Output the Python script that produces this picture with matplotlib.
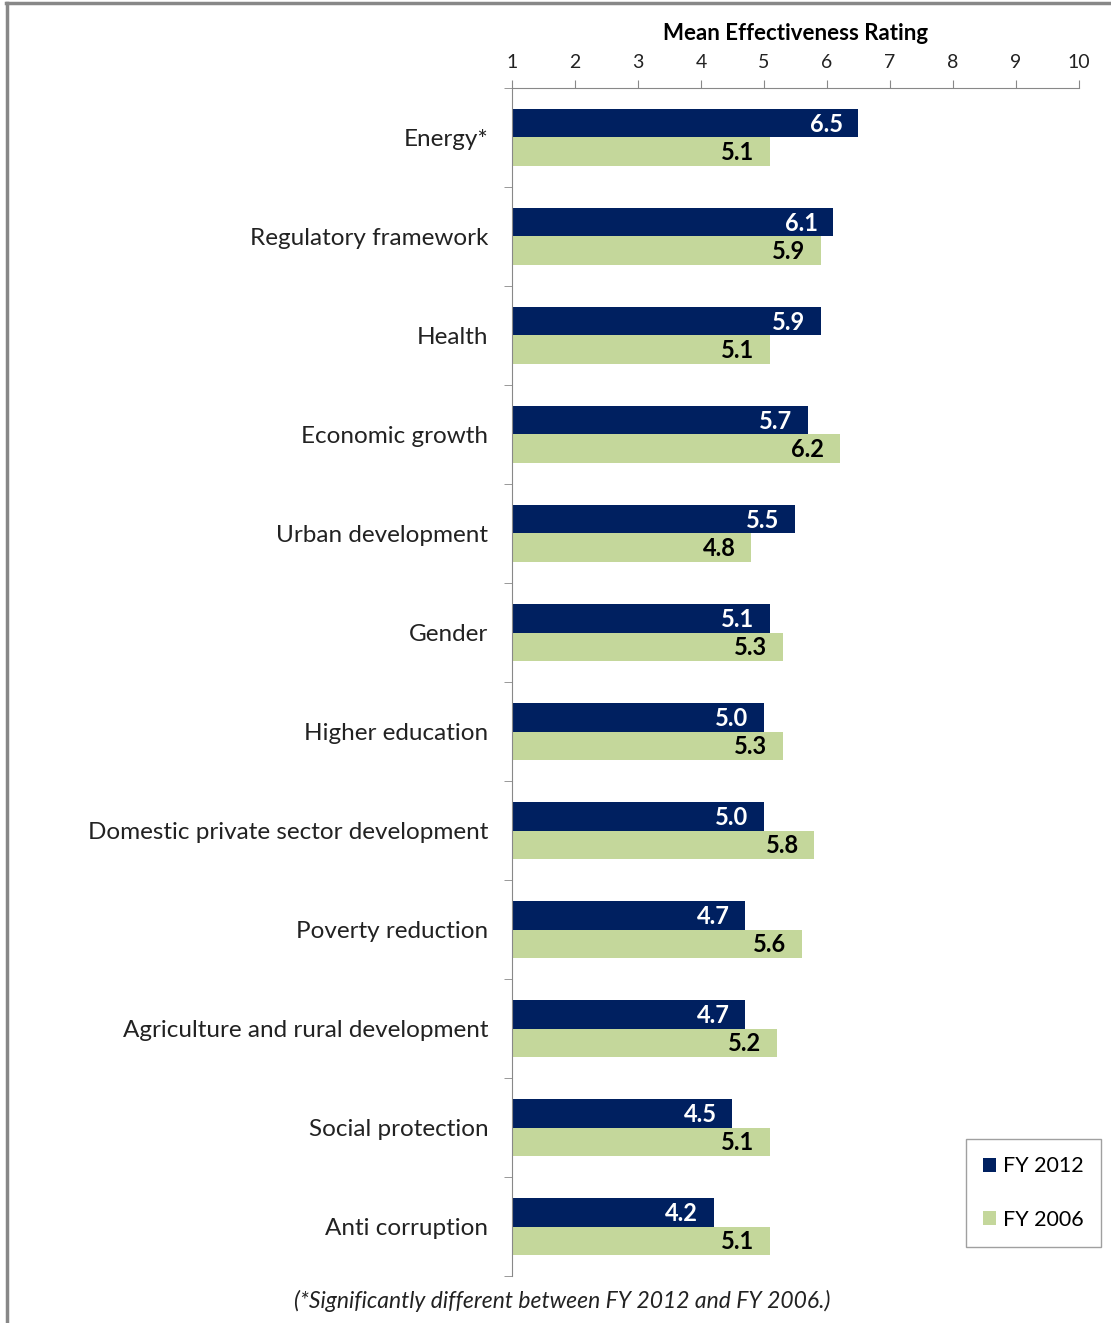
import matplotlib
matplotlib.use('Agg')
import matplotlib.pyplot as plt
from matplotlib.lines import Line2D
import numpy as np

plt.rcParams['font.family'] = ['Lato', 'DejaVu Sans']

# Dados
categorias = ['Energy*', 'Regulatory framework', 'Health', 'Economic growth',
              'Urban development', 'Gender', 'Higher education',
              'Domestic private sector development', 'Poverty reduction',
              'Agriculture and rural development', 'Social protection',
              'Anti corruption']
fy2012 = [6.5, 6.1, 5.9, 5.7, 5.5, 5.1, 5.0, 5.0, 4.7, 4.7, 4.5, 4.2]
fy2006 = [5.1, 5.9, 5.1, 6.2, 4.8, 5.3, 5.3, 5.8, 5.6, 5.2, 5.1, 5.1]
ticks = [1, 2, 3, 4, 5, 6, 7, 8, 9, 10]

cor_2012 = '#002060'
cor_2006 = '#C4D79B'

fig = plt.figure(figsize=(11.11, 13.23), dpi=100)
ax = fig.add_axes([0.4608, 0.0355, 0.9712 - 0.4608, 0.9335 - 0.0355])

y = np.arange(len(categorias))
h = 0.285
base = 1
ax.barh(y - h / 2, np.array(fy2012) - base, left=base, height=h,
        color=cor_2012, label='FY 2012')
ax.barh(y + h / 2, np.array(fy2006) - base, left=base, height=h,
        color=cor_2006, label='FY 2006')

# Rótulos de valor
for i, (a, b) in enumerate(zip(fy2012, fy2006)):
    ax.text(a - 0.25, i - h / 2 + 0.01, f'{a:.1f}', ha='right', va='center',
            color='white', fontsize=17, fontweight='bold')
    ax.text(b - 0.25, i + h / 2 + 0.01, f'{b:.1f}', ha='right', va='center',
            color='black', fontsize=17, fontweight='bold')

ax.set_xlim(1, 10)
ax.set_ylim(len(categorias) - 0.5, -0.5)
ax.set_xticks(ticks)
ax.xaxis.tick_top()
ax.xaxis.set_label_position('top')
ax.set_xlabel('Mean Effectiveness Rating', fontsize=16, fontweight='bold',
              labelpad=10)
ax.tick_params(axis='x', labelsize=14, length=6, color='#888888',
               colors='#222222', pad=6)

ax.set_yticks(y)
ax.set_yticklabels(categorias, fontsize=17.5, color='#222222')
ax.set_yticks(np.arange(len(categorias) + 1) - 0.5, minor=True)
ax.tick_params(axis='y', which='major', length=0, pad=17)
ax.tick_params(axis='y', which='minor', length=6, color='#888888')

for lado in ['right', 'bottom']:
    ax.spines[lado].set_visible(False)
ax.spines['top'].set_color('#888888')
ax.spines['left'].set_color('#888888')

leg = ax.legend(loc='lower left', bbox_to_anchor=(0.80, 0.0245),
                fontsize=15.5, frameon=True, fancybox=False, handlelength=0.6,
                handleheight=0.6, handletextpad=0.35, labelspacing=1.55,
                borderpad=0.8, borderaxespad=0)
leg.get_frame().set_edgecolor('#888888')
leg.get_frame().set_linewidth(1)

fig.text(0.506, 0.0165, '(*Significantly different between FY 2012 and FY 2006.)',
         ha='center', va='center', fontsize=16.5, style='italic', color='#222222')

# Moldura
fig.add_artist(Line2D([0.0055, 1.0], [0.9975, 0.9975], color='#888888', lw=2.5,
                      transform=fig.transFigure))
fig.add_artist(Line2D([0.0065, 0.0065], [0.0, 0.9975], color='#888888', lw=2.5,
                      transform=fig.transFigure))

fig.savefig('out.png', dpi=100)
plt.close(fig)
